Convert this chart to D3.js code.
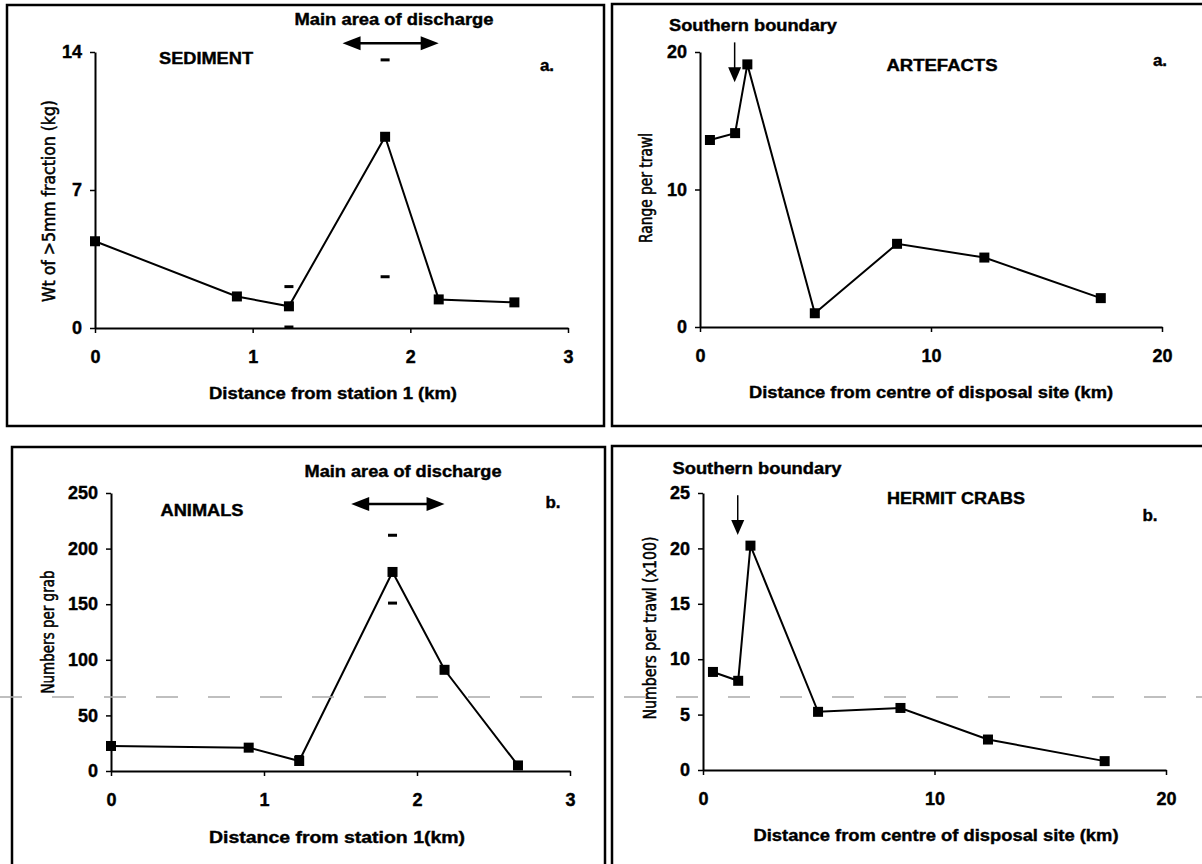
<!DOCTYPE html>
<html>
<head>
<meta charset="utf-8">
<script src="https://cdn.jsdelivr.net/npm/d3@7"></script>
<style>
  body { margin: 0; background: #fff; }
  svg text { font-family: "Liberation Sans", Arial, Helvetica, sans-serif; font-weight: bold; fill: #000; stroke: #000; stroke-width: 0.4px; }
  svg text.narrow { font-family: "Liberation Sans Narrow", "DejaVu Sans Condensed", sans-serif; font-weight: normal; stroke-width: 0.5px; }
</style>
</head>
<body>
<script>
// ---- data ----
var stationKm = [0, 0.9, 1.23, 1.84, 2.18, 2.66];
var sedimentKg = [4.4, 1.6, 1.1, 9.7, 1.45, 1.3];
var sedimentCaps = [[1.23, 2.1], [1.23, 0.05], [1.84, 13.6], [1.84, 2.6]];
var animalsPerGrab = [22.5, 21, 9, 179, 91, 5];
var animalsCaps = [[1.23, 13], [1.84, 212], [1.84, 151]];

var disposalKm = [0.43, 1.52, 2.05, 4.97, 8.53, 12.31, 17.35];
var artefactsRange = [13.6, 14.1, 19.1, 1.0, 6.05, 5.05, 2.1];
var hermitCrabs = [8.85, 8.05, 20.25, 5.25, 5.6, 2.75, 0.8];

var stationTicks = [0, 1, 2, 3];
var disposalTicks = [0, 10, 20];
var sedimentTicks = [0, 7, 14];
var artefactTicks = [0, 10, 20];
var animalTicks = [0, 50, 100, 150, 200, 250];
var crabTicks = [0, 5, 10, 15, 20, 25];

var dischargeZone = [1.57, 2.18];   // km from station 1
var southernBoundary = 1.5;         // km from centre of disposal site

var svg = d3.select("body").append("svg")
  .attr("width", 1202)
  .attr("height", 864);

function label(g, s, cx, cy, o) {
  var t = g.append("text")
    .attr("x", cx).attr("y", cy)
    .attr("text-anchor", "middle")
    .attr("dominant-baseline", "central")
    .style("font-size", o.size + "px")
    .text(s);
  if (o.len) t.attr("textLength", o.len).attr("lengthAdjust", "spacingAndGlyphs");
  if (o.rot) t.attr("transform", "rotate(-90," + cx + "," + cy + ")");
  if (o.cls) t.attr("class", o.cls);
  return t;
}

function arrowHead(g, tipX, tipY, dir, len, half) {
  // dir: "left", "right", "down"
  var p;
  if (dir == "left") p = [[tipX, tipY], [tipX + len, tipY - half], [tipX + len, tipY + half]];
  if (dir == "right") p = [[tipX, tipY], [tipX - len, tipY - half], [tipX - len, tipY + half]];
  if (dir == "down") p = [[tipX, tipY], [tipX - half, tipY - len], [tipX + half, tipY - len]];
  g.append("path").attr("d", "M" + p.join("L") + "Z").attr("fill", "#000");
}

function panel(c) {
  var g = svg.append("g");

  g.append("rect")
    .attr("x", c.frame[0]).attr("y", c.frame[1])
    .attr("width", c.frame[2]).attr("height", c.frame[3])
    .attr("fill", "none").attr("stroke", "#000").attr("stroke-width", 2.5);

  var x = d3.scaleLinear().domain(c.xDomain).range([c.left, c.right]);
  var y = d3.scaleLinear().domain(c.yDomain).range([c.bottom, c.top]);

  var xAxis = g.append("g")
    .attr("transform", "translate(0," + c.bottom + ")")
    .call(d3.axisBottom(x).tickValues(c.xTicks).tickFormat(d3.format("d"))
      .tickSize(5).tickSizeOuter(0).tickPadding(17));
  var yAxis = g.append("g")
    .attr("transform", "translate(" + c.left + ",0)")
    .call(d3.axisLeft(y).tickValues(c.yTicks).tickFormat(d3.format("d"))
      .tickSize(5).tickSizeOuter(0).tickPadding(8));

  [xAxis, yAxis].forEach(function (a) {
    a.attr("font-family", null).attr("font-size", null);
    a.select(".domain").attr("stroke-width", 2);
    a.selectAll(".tick line").attr("stroke-width", 1.5);
    a.selectAll(".tick text")
      .style("font-size", "18px")
      .style("font-weight", "bold")
      .style("font-family", "'Liberation Sans', Arial, sans-serif");
  });

  // connecting line
  var pts = c.xs.map(function (d, i) { return [d, c.ys[i]]; });
  g.append("path")
    .datum(pts)
    .attr("fill", "none")
    .attr("stroke", "#000")
    .attr("stroke-width", 2)
    .attr("d", d3.line().x(function (d) { return x(d[0]); }).y(function (d) { return y(d[1]); }));

  // error-bar caps (short dashes)
  if (c.caps) {
    g.selectAll(".cap").data(c.caps).enter().append("rect")
      .attr("x", function (d) { return x(d[0]) - 4.5; })
      .attr("y", function (d) { return y(d[1]) - 1.5; })
      .attr("width", 9).attr("height", 3)
      .attr("fill", "#000");
  }

  // square markers
  g.selectAll(".pt").data(pts).enter().append("rect")
    .attr("x", function (d) { return x(d[0]) - 5; })
    .attr("y", function (d) { return y(d[1]) - 5; })
    .attr("width", 10).attr("height", 10)
    .attr("fill", "#000");

  // annotations
  if (c.zone) {
    var ay = y(c.zoneY);
    var x0 = x(c.zone[0]), x1 = x(c.zone[1]);
    g.append("line").attr("x1", x0 + 10).attr("x2", x1 - 10).attr("y1", ay).attr("y2", ay)
      .attr("stroke", "#000").attr("stroke-width", 2.5);
    arrowHead(g, x0, ay, "left", 18, 7);
    arrowHead(g, x1, ay, "right", 18, 7);
  }
  if (c.boundary != null) {
    var bx = x(c.boundary);
    g.append("line").attr("x1", bx).attr("x2", bx)
      .attr("y1", y(c.boundaryY[0])).attr("y2", y(c.boundaryY[1]) - 10)
      .attr("stroke", "#000").attr("stroke-width", 1.5);
    arrowHead(g, bx, y(c.boundaryY[1]), "down", 15, 6.5);
  }

  c.texts.forEach(function (t) { label(g, t[0], t[1], t[2], t[3]); });
}

// top-left: sediment
panel({
  frame: [7, 5, 597, 421],
  left: 95, right: 568, top: 52, bottom: 328,
  xDomain: [0, 3], yDomain: [0, 14],
  xTicks: stationTicks, yTicks: sedimentTicks,
  xs: stationKm, ys: sedimentKg, caps: sedimentCaps,
  zone: dischargeZone, zoneY: 14.45,
  texts: [
    ["Main area of discharge", 394, 19, { size: 16, len: 199 }],
    ["SEDIMENT", 206, 58, { size: 16, len: 94 }],
    ["a.", 547, 65, { size: 17 }],
    ["Distance from station 1 (km)", 333, 393, { size: 16, len: 248 }],
    ["Wt of >5mm fraction (kg)", 49, 201, { size: 17, len: 202, rot: true, cls: "narrow" }]
  ]
});

// top-right: artefacts
panel({
  frame: [612, 4, 600, 422],
  left: 700, right: 1162, top: 52, bottom: 327,
  xDomain: [0, 20], yDomain: [0, 20],
  xTicks: disposalTicks, yTicks: artefactTicks,
  xs: disposalKm, ys: artefactsRange,
  boundary: southernBoundary, boundaryY: [20.7, 17.8],
  texts: [
    ["Southern boundary", 753, 25, { size: 16, len: 168 }],
    ["ARTEFACTS", 942, 65, { size: 16, len: 111 }],
    ["a.", 1160, 60, { size: 17 }],
    ["Distance from centre of disposal site (km)", 931, 392, { size: 16, len: 364 }],
    ["Range per trawl", 646, 188, { size: 17, len: 110, rot: true, cls: "narrow" }]
  ]
});

// bottom-left: animals
panel({
  frame: [12, 447, 593, 440],
  left: 111, right: 570, top: 493, bottom: 771,
  xDomain: [0, 3], yDomain: [0, 250],
  xTicks: stationTicks, yTicks: animalTicks,
  xs: stationKm, ys: animalsPerGrab, caps: animalsCaps,
  zone: dischargeZone, zoneY: 240,
  texts: [
    ["Main area of discharge", 403, 471, { size: 16, len: 197 }],
    ["ANIMALS", 202, 510, { size: 16, len: 83 }],
    ["b.", 553, 502, { size: 17 }],
    ["Distance from station 1(km)", 337, 837, { size: 16, len: 256 }],
    ["Numbers per grab", 48, 632, { size: 17, len: 123, rot: true, cls: "narrow" }]
  ]
});

// bottom-right: hermit crabs
panel({
  frame: [612, 446, 600, 440],
  left: 703, right: 1166, top: 493, bottom: 770,
  xDomain: [0, 20], yDomain: [0, 25],
  xTicks: disposalTicks, yTicks: crabTicks,
  xs: disposalKm, ys: hermitCrabs,
  boundary: southernBoundary, boundaryY: [24.8, 21.2],
  texts: [
    ["Southern boundary", 757, 468, { size: 16, len: 169 }],
    ["HERMIT CRABS", 956, 498, { size: 16, len: 138 }],
    ["b.", 1150, 515, { size: 17 }],
    ["Distance from centre of disposal site (km)", 936, 835, { size: 16, len: 365 }],
    ["Numbers per trawl (x100)", 650, 628, { size: 17, len: 183, rot: true, cls: "narrow" }]
  ]
});

// faint scan streak across the lower panels
svg.append("line")
  .attr("x1", 0).attr("x2", 1202).attr("y1", 697).attr("y2", 697)
  .attr("stroke", "#aaa").attr("stroke-width", 1.5)
  .attr("stroke-dasharray", "22,30");
</script>
</body>
</html>
